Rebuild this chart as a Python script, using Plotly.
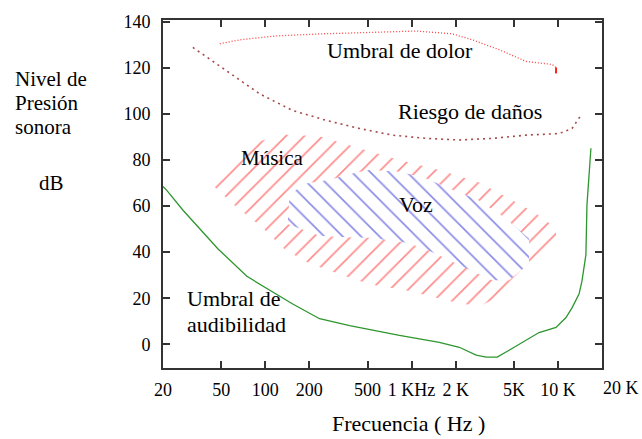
import math
import plotly.graph_objects as go

# ---------------- data ----------------
freq_ticks = [20, 50, 100, 200, 500, 1000, 2000, 5000, 10000, 20000]
freq_labels = ["20", "50", "100", "200", "500", "1 KHz", "2 K", "5K", "10 K", "20 K"]
db_ticks = [0, 20, 40, 60, 80, 100, 120, 140]

# Umbral de dolor (pain threshold)
dolor_f = [48.9, 67.0, 87.5, 119.7, 246, 632, 1077, 1897, 2596, 3966, 6058, 9110, 9702]
dolor_db = [130.5, 132.2, 133.0, 133.9, 134.8, 135.6, 136.0, 134.8, 132.2, 127.9, 122.8, 121.5, 120.2]
dolor_end_f = [9702, 9702]
dolor_end_db = [120.2, 117.6]

# Riesgo de daños (damage risk)
danos_f = [32, 54.6, 91.7, 153.9, 262, 440, 739, 1262, 2117, 3555, 6054, 10170, 12475, 14590]
danos_db = [128.9, 118.6, 108.7, 101.5, 97.2, 93.7, 90.8, 89.4, 88.7, 89.4, 90.8, 91.5, 93.7, 100.1]

# Umbral de audibilidad (hearing threshold)
aud_f = [20, 21.3, 27.4, 47.4, 74.8, 91.7, 154, 235, 377, 826, 1546, 2117, 2762, 3236,
         3845, 4636, 6054, 7428, 9704, 11350, 12475, 13930, 14590, 15530, 15780, 16290, 16800]
aud_db = [68.5, 66.7, 58.2, 41.5, 29.5, 26.1, 17.5, 11.1, 8.1, 3.85, 0.86, -1.3, -4.7, -5.6,
          -5.6, -2.6, 1.7, 5.1, 7.3, 11.6, 15.8, 21.8, 27.4, 38.9, 60.3, 75.7, 85.1]

# Música region (outline)
musica_f = [40.5, 70.2, 131.5, 235, 440, 825, 1546, 2898, 4638, 6870, 9702, 9702,
            6352, 3966, 2898, 1808, 965, 515, 322, 201, 136, 94.6, 61.9, 40.5]
musica_db = [71.0, 86.0, 91.1, 90.3, 85.1, 80.0, 75.7, 70.2, 63.3, 57.3, 50.5, 42.4,
             29.5, 21.0, 16.3, 18.8, 23.1, 26.1, 30.4, 35.1, 41.1, 50.9, 60.3, 71.0]

# Voz region (outline)
voz_f = [142, 147, 186, 275, 407, 515, 825, 1222, 1808, 2808, 4290, 6352, 6352,
         4638, 3554, 2289, 1321, 935, 515, 322, 235, 142]
voz_db = [52.2, 65.0, 69.7, 71.4, 74.4, 75.7, 74.9, 72.3, 67.6, 62.9, 55.2, 45.8, 35.1,
          27.8, 27.8, 33.4, 40.6, 44.1, 46.2, 46.6, 47.1, 52.2]

# ---------------- figure ----------------
W, H = 642, 439
L, R, T, B = 163, 40, 16, 71
PW, PH = W - L - R, H - T - B


def px(x):
    return (x - L) / PW


def py(y):
    return (H - B - y) / PH


SERIF = "Liberation Serif, Times New Roman, serif"
fig = go.Figure()

fig.add_trace(go.Scatter(
    x=musica_f, y=musica_db, mode="none", fill="toself",
    fillcolor="white",
    fillpattern=dict(shape="/", fgcolor="#ff1a1a", bgcolor="white", size=13, solidity=0.13),
    hoverinfo="skip", showlegend=False))
fig.add_trace(go.Scatter(
    x=voz_f, y=voz_db, mode="none", fill="toself",
    fillcolor="white",
    fillpattern=dict(shape="\\", fgcolor="#1a1ad0", bgcolor="white", size=13, solidity=0.13),
    hoverinfo="skip", showlegend=False))

fig.add_trace(go.Scatter(x=dolor_f, y=dolor_db, mode="lines",
                         line=dict(color="#ff4040", width=1.3, dash="1px,2px"),
                         hoverinfo="skip", showlegend=False))
fig.add_trace(go.Scatter(x=dolor_end_f, y=dolor_end_db, mode="lines",
                         line=dict(color="#ff2020", width=2),
                         hoverinfo="skip", showlegend=False))
fig.add_trace(go.Scatter(x=danos_f, y=danos_db, mode="lines",
                         line=dict(color="#a84848", width=1.6, dash="2px,4px"),
                         hoverinfo="skip", showlegend=False))
fig.add_trace(go.Scatter(x=aud_f, y=aud_db, mode="lines",
                         line=dict(color="#2e962e", width=1.3),
                         hoverinfo="skip", showlegend=False))

axis_common = dict(showline=True, linecolor="#333333", linewidth=2, mirror="ticks",
                   ticks="inside", ticklen=7, tickwidth=1.5, tickcolor="#333333",
                   showgrid=False, zeroline=False,
                   tickfont=dict(family=SERIF, size=18, color="#000"))

fig.update_xaxes(type="log", range=[math.log10(20), math.log10(20000)],
                 tickvals=freq_ticks[:-1], ticktext=freq_labels[:-1],
                 ticklabelstandoff=4, **axis_common)
fig.update_yaxes(range=[-10.3, 140.8], tickvals=db_ticks,
                 ticktext=[str(v) for v in db_ticks],
                 ticklabelstandoff=7, **axis_common)

annots = []


def add_text(text, x, y, xa="center", ya="middle", size=22, align="center"):
    annots.append(dict(text=text, x=px(x), y=py(y), xref="paper", yref="paper",
                       xanchor=xa, yanchor=ya, showarrow=False, align=align,
                       font=dict(family=SERIF, size=size, color="#000")))


add_text("Umbral de dolor", 400, 47)
add_text("Riesgo de daños", 470, 109)
add_text("Música", 272, 156, size=21)
add_text("Voz", 416, 203)
add_text("Umbral de", 185, 298, xa="left")
add_text("audibilidad", 185, 324, xa="left")
add_text("Nivel de", 13, 76, xa="left", size=21)
add_text("Presión", 13, 100, xa="left", size=21)
add_text("sonora", 13, 124, xa="left", size=21)
add_text("dB", 52, 181, size=21)
add_text("Frecuencia ( Hz )", 408, 424, size=22)
add_text(freq_labels[-1], 621, 388, size=18)

fig.update_layout(width=W, height=H, margin=dict(l=L, r=R, t=T, b=B),
                  plot_bgcolor="white", paper_bgcolor="white",
                  annotations=annots, showlegend=False)

fig.write_html("out.html")
